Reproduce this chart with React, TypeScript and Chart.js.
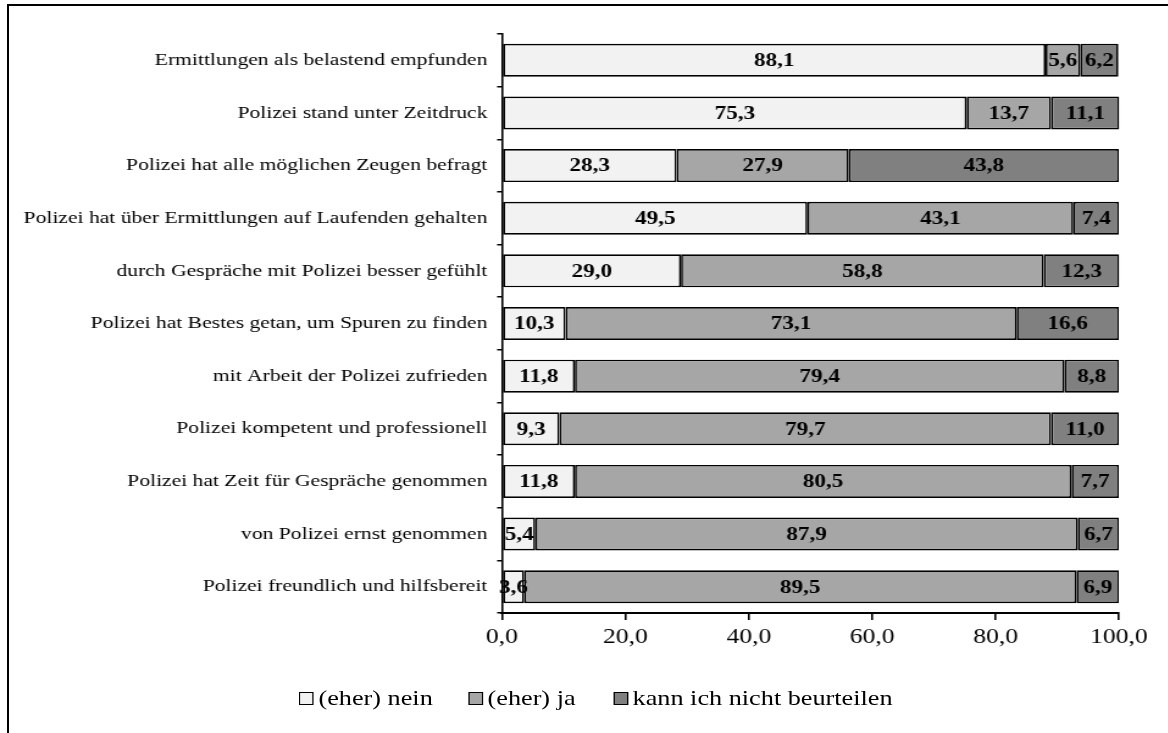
import React, { useEffect, useRef } from 'react';
import { Chart, registerables } from 'chart.js';
Chart.register(...registerables);

const categories = [
  'Ermittlungen als belastend empfunden',
  'Polizei stand unter Zeitdruck',
  'Polizei hat alle möglichen Zeugen befragt',
  'Polizei hat über Ermittlungen auf Laufenden gehalten',
  'durch Gespräche mit Polizei besser gefühlt',
  'Polizei hat Bestes getan, um Spuren zu finden',
  'mit Arbeit der Polizei zufrieden',
  'Polizei kompetent und professionell',
  'Polizei hat Zeit für Gespräche genommen',
  'von Polizei ernst genommen',
  'Polizei freundlich und hilfsbereit',
];
const neinValues = [88.1, 75.3, 28.3, 49.5, 29.0, 10.3, 11.8, 9.3, 11.8, 5.4, 3.6];
const jaValues = [5.6, 13.7, 27.9, 43.1, 58.8, 73.1, 79.4, 79.7, 80.5, 87.9, 89.5];
const kannValues = [6.2, 11.1, 43.8, 7.4, 12.3, 16.6, 8.8, 11.0, 7.7, 6.7, 6.9];
const xTicks = [0, 20, 40, 60, 80, 100];
const seriesLabels = ['(eher) nein', '(eher) ja', 'kann ich nicht beurteilen'];
const seriesColors = ['#f2f2f2', '#a6a6a6', '#808080'];

const SX = 1.22;
const W = 958;
const H = 733;
const LEFT = 502 / SX;
const RIGHT = 1119 / SX;
const TOP = 34;
const BOTTOM = 613;
const FONT = '"Liberation Serif", "Times New Roman", serif';

const fmt = (v: number) => Number(v).toFixed(1).replace('.', ',');

const valueLabels = {
  id: 'valueLabels',
  afterDatasetsDraw(chart: any) {
    const ctx = chart.ctx;
    ctx.save();
    ctx.font = `bold 19px ${FONT}`;
    ctx.fillStyle = '#000';
    ctx.textAlign = 'center';
    ctx.textBaseline = 'middle';
    chart.data.datasets.forEach((ds: any, i: number) => {
      const meta = chart.getDatasetMeta(i);
      meta.data.forEach((el: any, j: number) => {
        const p = el.getProps(['x', 'base', 'y'], true);
        ctx.fillText(fmt(ds.data[j]), (p.x + p.base) / 2, p.y + 1);
      });
    });
    ctx.restore();
  },
};

const legendLefts = [245, 383.6, 502.5];

export default function App() {
  const ref = useRef<HTMLCanvasElement>(null);
  useEffect(() => {
    const seriesData = [neinValues, jaValues, kannValues];
    const chart = new Chart(ref.current as HTMLCanvasElement, {
      type: 'bar',
      data: {
        labels: categories,
        datasets: seriesData.map((d, i) => ({
          label: seriesLabels[i],
          data: d,
          backgroundColor: seriesColors[i],
          borderColor: '#000',
          borderWidth: 1.7,
          borderSkipped: false,
          barPercentage: 0.627,
          categoryPercentage: 1,
        })),
      },
      options: {
        indexAxis: 'y',
        animation: false,
        responsive: false,
        devicePixelRatio: 1,
        layout: { padding: { top: TOP, right: W - RIGHT, left: 0, bottom: 0 } },
        plugins: { legend: { display: false }, tooltip: { enabled: false } },
        scales: {
          x: {
            type: 'linear',
            stacked: true,
            min: 0,
            max: 100,
            afterFit: (s: any) => { s.height = H - BOTTOM; },
            afterBuildTicks: (s: any) => { s.ticks = xTicks.map((v) => ({ value: v })); },
            ticks: {
              callback: (v: any) => fmt(v),
              font: { family: FONT, size: 21 },
              color: '#000',
              padding: 5,
              maxRotation: 0,
              autoSkip: false,
            },
            grid: { drawOnChartArea: false, drawTicks: true, tickLength: 7, color: '#000', lineWidth: 1.6 },
            border: { color: '#000', width: 2 },
          },
          y: {
            type: 'category',
            stacked: true,
            afterFit: (s: any) => { s.width = LEFT; },
            ticks: { font: { family: FONT, size: 17.7 }, color: '#000', padding: 8, autoSkip: false },
            grid: { offset: true, drawOnChartArea: false, drawTicks: true, tickLength: 4, color: '#000', lineWidth: 1.5 },
            border: { color: '#000', width: 1.6 },
          },
        },
      } as any,
      plugins: [valueLabels],
    });
    return () => chart.destroy();
  }, []);

  return (
    <div style={{ position: 'absolute', left: 0, top: 0, width: 1168, height: 733, overflow: 'hidden', background: '#fff' }}>
      <div style={{ position: 'absolute', left: 7, top: 4, width: 1400, height: 900, borderTop: '2px solid #000', borderLeft: '2px solid #000' }} />
      <div style={{ position: 'absolute', left: 0, top: 0, width: W, height: H, transform: `scaleX(${SX})`, transformOrigin: '0 0' }}>
        <canvas ref={ref} width={W} height={H} style={{ width: W, height: H, display: 'block' }} />
        {seriesLabels.map((lab, i) => (
          <div key={lab} style={{ position: 'absolute', left: legendLefts[i], top: 686, height: 24, display: 'flex', alignItems: 'center', fontFamily: FONT, fontSize: 21.5, whiteSpace: 'nowrap', color: '#000' }}>
            <span style={{ display: 'inline-block', boxSizing: 'border-box', width: 12, height: 13, border: '1.5px solid #000', background: seriesColors[i], marginRight: 4 }} />
            <span>{lab}</span>
          </div>
        ))}
      </div>
    </div>
  );
}
